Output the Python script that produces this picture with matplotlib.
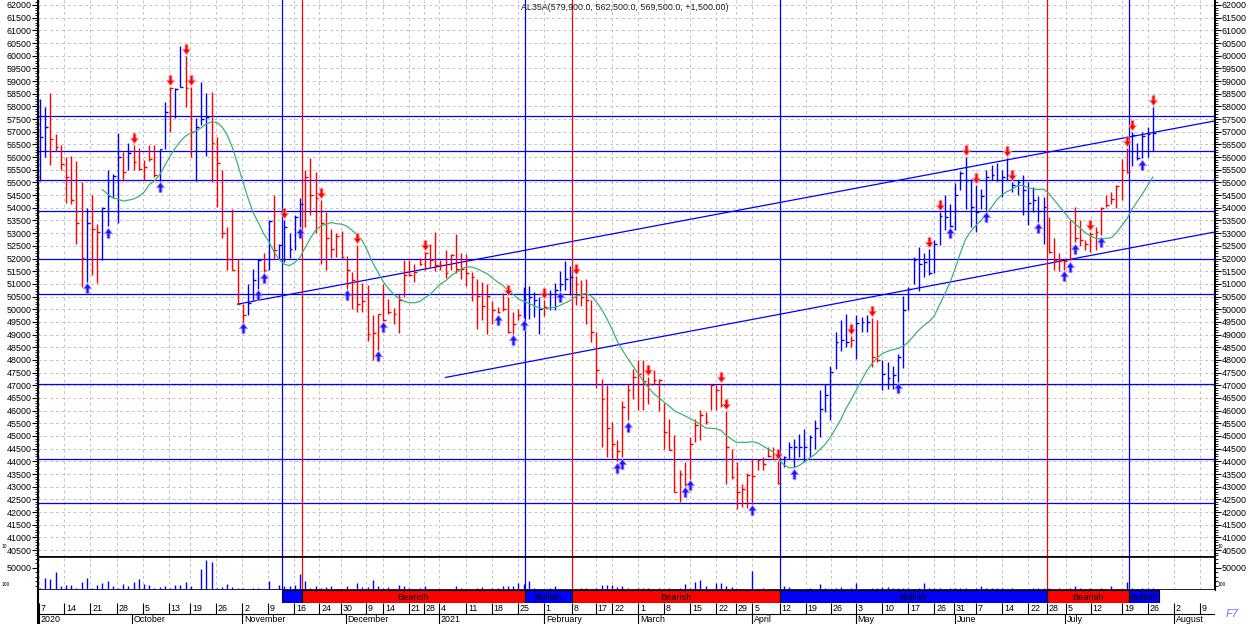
import numpy as np
import pandas as pd
import matplotlib
matplotlib.use("Agg")
import matplotlib.pyplot as plt
from matplotlib.transforms import ScaledTranslation

plt.rcParams['font.family'] = ['Liberation Sans', 'DejaVu Sans']

# ---------------- data ----------------
title = "AL35A(579,900.0, 562,500.0, 569,500.0, +1,500.00)"

bar_dir = ("bbrrrrrrrb" "rrbbbbrbrr" "rrrbbrbbrr" "bbbrrrrrrr" "bbbrbrbbbb"
           "brrrrrrrrr" "rrrrrrrrrr" "rrrrrrrrrr" "rrrrrrrrrr" "rrrbbbbrbb"
           "bbbrrrrrrr" "rrrrrrrrrr" "rrrrrrrrrr" "rrrrrrrrrr" "rrrbbbbbbb"
           "bbbbbbrbbb" "rrbbbbbbbb" "bbbbbbbbbb" "bbbbbbbbbb" "bbbbrrrrrr"
           "rrrrrrrrrr" "bbbbb")

highs = [58310, 57990, 58510, 56930, 56460, 56010, 56040, 55840, 55010, 53990,
         54510, 53380, 54040, 55490, 55350, 56970, 56210, 56540, 56470, 56340,
         55880, 56470, 56470, 56320, 58180, 58780, 58710, 60380, 59990, 58780,
         57530, 58970, 58510, 58580, 56800, 55490, 53250, 53970, 52000, 50220,
         51010, 51580, 51990, 52200, 53510, 54500, 52590, 53510, 52990, 53710,
         54370, 55490, 55950, 55420, 54300, 53840, 53160, 52990, 53090, 52090,
         51450, 52520, 51040, 50950, 49760, 49830, 51010, 50420, 50050, 50620,
         51960, 51960, 51770, 52040, 52240, 52590, 53050, 51930, 52350, 52170,
         52960, 52200, 52170, 51470, 51210, 51080, 51010, 50330, 50090, 50640,
         50490, 49890, 50020, 50880, 50910, 50680, 50490, 50350, 50770, 51040,
         51510, 51890, 51700, 51300, 51140, 51210, 50350, 49100, 47260, 47000,
         45550, 44830, 46400, 47060, 47660, 47980, 47980, 47320, 47590, 47260,
         46300, 45680, 45020, 43640, 43970, 44960, 45680, 46010, 45950, 47060,
         47000, 47060, 45980, 44500, 43970, 43120, 43540, 44100, 44100, 44190,
         44560, 44560, 44000, 44230, 44760, 44890, 45090, 45290, 45020, 45620,
         46800, 47060, 47750, 49100, 49560, 49830, 48950, 49790, 49700, 49760,
         49650, 49560, 48010, 47920, 47750, 48220, 50510, 50880, 52060, 52460,
         52200, 52390, 52720, 53840, 54500, 54170, 54960, 55460, 56010, 55120,
         54890, 54760, 55490, 55680, 55750, 55510, 55950, 55000, 55090, 55290,
         55030, 54830, 54460, 54430, 53640, 52790, 52200, 51960, 53510, 54040,
         53510, 52720, 53050, 53250, 54040, 54500, 54630, 54890, 55910, 56340,
         57000, 56540, 57000, 57170, 57990]

lows = [55070, 56010, 55700, 56250, 55510, 54200, 54170, 52590, 50880, 51080,
        51340, 51050, 51960, 53280, 54370, 53410, 55050, 55490, 55490, 55490,
        55090, 55850, 55220, 55070, 56320, 57000, 57530, 58780, 57990, 56010,
        55070, 57260, 56040, 55030, 54040, 52790, 51540, 51540, 50200, 49500,
        49760, 50350, 50800, 51470, 51540, 52000, 52000, 51870, 52040, 52330,
        53250, 53250, 53710, 53010, 51800, 51560, 52040, 52060, 52040, 50810,
        50020, 49890, 49890, 48750, 48010, 48400, 49540, 49800, 49430, 49060,
        50490, 51300, 51080, 51740, 51540, 51670, 51510, 51540, 51250, 51540,
        51410, 51210, 50910, 50330, 49230, 49560, 49010, 49410, 49850, 49930,
        49060, 49040, 49560, 49650, 49630, 49700, 49010, 49720, 49960, 49960,
        50720, 50770, 50550, 50160, 50120, 49430, 48710, 46900, 44560, 44170,
        44100, 44000, 44170, 45620, 46450, 46010, 46010, 46250, 47060, 45980,
        44500, 44430, 42790, 42390, 43040, 43310, 44760, 44830, 45480, 46010,
        46010, 46140, 43090, 43310, 42130, 42190, 42170, 42330, 43640, 43670,
        44170, 44100, 43120, 43770, 44100, 43770, 44170, 43970, 44170, 44500,
        44960, 45950, 45620, 47660, 48350, 48510, 48510, 48050, 49100, 49100,
        47720, 47920, 46800, 46870, 46870, 47130, 47700, 49960, 51010, 50720,
        51280, 51340, 51410, 52530, 53120, 53250, 53120, 54700, 53970, 53250,
        53050, 53970, 53910, 55090, 55070, 54430, 55090, 54630, 54500, 53710,
        53310, 53840, 53450, 52590, 52200, 51560, 51510, 51560, 51930, 52640,
        52490, 52350, 52260, 52330, 52920, 54040, 54170, 54010, 54300, 55380,
        55640, 55880, 55950, 56010, 56250]

closes = [56780, 57170, 56700, 56380, 55710, 55210, 54300, 53420, 52040, 53420,
          53160, 53030, 54010, 54470, 55260, 56010, 55420, 56180, 55820, 55550,
          55620, 55910, 55300, 56320, 57790, 58710, 58680, 58780, 58710, 57000,
          57200, 57500, 57570, 56540, 55750, 52990, 52000, 51540, 50200, 49760,
          50250, 51170, 51960, 51540, 53470, 52330, 52550, 53250, 52370, 53640,
          54170, 55220, 54500, 54370, 53400, 52800, 52390, 52880, 52060, 51540,
          51140, 50200, 50310, 49040, 49060, 49800, 49560, 49890, 49800, 50350,
          51340, 51340, 51470, 51770, 52200, 51930, 51740, 51740, 51410, 52130,
          51600, 51600, 51430, 51270, 50520, 50130, 50520, 49980, 49900, 50020,
          49100, 49430, 49760, 50420, 50490, 50350, 50020, 50100, 50620, 50750,
          51000, 51210, 51270, 51010, 50490, 50350, 49100, 47600, 46470, 45300,
          44690, 44400, 46140, 46800, 47330, 47460, 47170, 47040, 47200, 47200,
          45160, 44460, 42810, 43510, 43100, 44690, 45420, 45810, 45550, 47000,
          46830, 46210, 44560, 43380, 42790, 42920, 43480, 43440, 44040, 43910,
          44200, 44100, 43140, 44190, 44560, 44560, 44560, 44560, 44960, 45330,
          46080, 46600, 47520, 48710, 48770, 48710, 48800, 49460, 49500, 49500,
          48120, 48000, 47460, 47300, 47400, 48120, 49960, 50780, 51930, 51800,
          51860, 51410, 52590, 53670, 53640, 53280, 54500, 55390, 55090, 54040,
          53840, 54470, 55220, 55290, 55090, 55220, 55290, 54900, 55030, 54700,
          54200, 54300, 53870, 54040, 52260, 51930, 51960, 51890, 52000, 52800,
          52720, 52590, 52980, 53050, 54010, 54110, 54330, 54850, 55490, 55420,
          56870, 55950, 56830, 56930, 56950]

volumes = [4000, 26900, 23900, 40300, 9000, 11200, 11200, 5200, 17900, 26900,
           5200, 11200, 16400, 20200, 9000, 5200, 13400, 9000, 17900, 24700,
           13400, 11200, 5200, 7500, 9000, 5200, 11200, 11200, 17900, 9000,
           3000, 47100, 67200, 62700, 5200, 7500, 13400, 7500, 5200, 5200,
           3000, 5200, 5200, 3000, 20200, 3000, 11200, 9000, 9000, 11200,
           35900, 20200, 5200, 9000, 5200, 7500, 9000, 3000, 3000, 9000,
           3000, 16400, 7500, 7500, 22400, 9000, 5200, 7500, 3000, 11200,
           9000, 5200, 3000, 5000, 9000, 3000, 3000, 3000, 3000, 3000,
           9000, 5200, 3000, 3000, 5200, 7500, 3000, 5200, 5200, 9000,
           9700, 9000, 16400, 13400, 20200, 5200, 3000, 3000, 5200, 9000,
           3000, 3000, 3000, 3000, 5200, 5200, 3000, 5200, 11200, 11200,
           11200, 7500, 9000, 5200, 3000, 5200, 5200, 5200, 3000, 5200,
           3000, 5200, 3000, 5200, 12700, 5200, 17200, 22400, 9000, 3000,
           14900, 16400, 9000, 7500, 3000, 3000, 3000, 42600, 3000, 5200,
           3000, 3000, 3000, 9000, 7500, 3000, 3000, 3000, 5200, 3000,
           13400, 5200, 3000, 5200, 7500, 3000, 5200, 16400, 3000, 3000,
           5200, 5200, 7500, 7500, 5200, 5200, 5200, 5200, 3000, 5200,
           16400, 5200, 5200, 5200, 3000, 5200, 5200, 5200, 5200, 3000,
           5200, 9000, 5200, 5200, 5200, 5200, 3000, 5200, 3000, 3000,
           3000, 5200, 5200, 5200, 5200, 3000, 5200, 3000, 5200, 9000,
           5200, 3000, 5200, 3000, 5200, 3000, 9000, 3000, 3000, 17900,
           5200, 3000, 5200, 5200, 5200]

down_arrows = [18, 25, 28, 29, 47, 54, 61, 74, 90, 97, 103, 117, 131, 132, 142,
               156, 160, 171, 173, 178, 180, 186, 187, 202, 209, 210, 214]
up_arrows = [9, 13, 23, 39, 42, 43, 50, 59, 65, 66, 88, 91, 93, 100, 111, 112,
             113, 124, 125, 137, 145, 165, 175, 182, 192, 197, 198, 199, 204, 212]

levels = [57620, 56230, 55090, 53860, 51970, 50620, 47070, 44110, 42340]
upper_channel = [(38, 50200), (226, 57430)]
lower_channel = [(78, 47310), (226, 53050)]

signal_pos = [46.5, 50.3, 93.3, 102.25, 142.3, 193.6, 209.4]
signal_state = ['Bullish', 'Bearish', 'Bullish', 'Bearish', 'Bullish', 'Bearish', 'Bullish']
signal_label = ['', 'Bearish', 'Bullish', 'Bearish', 'Bullish', 'Bearish', 'Bullish']
signal_end = 215.1

day_pos = [-0.2, 4.7, 9.7, 14.75, 19.75, 24.8, 28.85, 33.85, 38.9, 43.85, 48.85,
           53.7, 57.8, 62.6, 66.0, 70.95, 73.85, 76.7, 82.0, 86.85, 91.85, 96.85,
           102.25, 106.9, 110.05, 115.05, 120.05, 125.0, 130.05, 133.85, 137.0,
           142.3, 147.25, 152.1, 156.9, 162.0, 167.0, 172.0, 175.75, 179.95,
           185.05, 190.05, 193.6, 197.25, 202.1, 208.1, 213.1, 218.1, 223.1]
day_lbl = ['7', '14', '21', '28', '5', '13', '19', '26', '2', '9', '16', '24', '30',
           '9', '14', '21', '28', '4', '11', '18', '25', '1', '8', '17', '22', '1',
           '8', '15', '22', '29', '5', '12', '19', '26', '3', '10', '17', '26', '31',
           '7', '14', '22', '28', '5', '12', '19', '26', '2', '9']
month_pos = [-0.2, 17.75, 38.9, 58.8, 76.7, 97.0, 115.05, 137.0, 156.9, 176.0, 197.1, 218.1]
month_lbl = ['2020', 'October', 'November', 'December', '2021', 'February', 'March',
             'April', 'May', 'June', 'July', 'August']

# ---------------- styling ----------------
BLUE = '#0000ff'
RED = '#ff0000'
GREEN = '#3cb371'
GRID = '#c4c4c4'
FS = 6.4

W, H = 1250, 624
fig = plt.figure(figsize=(W / 100, H / 100), dpi=100)


def rect(x0, y0, x1, y1):
    return [x0 / W, 1 - y1 / H, (x1 - x0) / W, (y1 - y0) / H]


X0, X1 = 38, 1215
ax = fig.add_axes(rect(X0, 0, X1, 556.5))
axv = fig.add_axes(rect(X0, 556.5, X1, 590))
axb = fig.add_axes(rect(X0, 590, X1, 603))
axd = fig.add_axes(rect(X0, 603, X1, 624))

n = len(closes)
x = np.arange(n)
xlim = (-0.385, 225.96)
for a in (ax, axv, axb, axd):
    a.set_xlim(*xlim)

cols = [BLUE if c == 'b' else RED for c in bar_dir]

# ---- price panel ----
ax.set_ylim(40247, 62197)
maj = np.arange(40500, 62001, 500)
ax.set_yticks(maj)
ax.set_yticklabels([str(v) for v in maj])
ax.set_yticks(np.arange(40300, 62200, 100), minor=True)
ax.set_xticks(day_pos)
ax.tick_params(axis='x', which='both', length=0, labelbottom=False)
ax.tick_params(axis='y', which='major', length=4, width=0.8, direction='out',
               left=True, right=True, labelleft=True, labelright=True,
               labelsize=FS, pad=0.5)
ax.tick_params(axis='y', which='minor', length=2, width=0.6, direction='out',
               left=True, right=True)
ax.grid(True, which='major', color=GRID, linestyle=(0, (3, 3)), lw=0.7)
ax.set_axisbelow(True)
ax.spines['top'].set_visible(False)
ax.spines['left'].set_linewidth(1.5)
ax.spines['right'].set_linewidth(1.5)
ax.spines['bottom'].set_linewidth(1.2)

for lv in levels:
    ax.axhline(lv, color=BLUE, lw=0.9, zorder=2)
for (p0, p1) in (upper_channel, lower_channel):
    ax.plot([p0[0], p1[0]], [p0[1], p1[1]], color=BLUE, lw=0.9, zorder=2)
for pos, st in zip(signal_pos, signal_state):
    c = BLUE if st == 'Bullish' else RED
    ax.axvline(pos, color=c, lw=0.9, zorder=2)
    axv.axvline(pos, color=c, lw=0.9, zorder=2)

ax.vlines(x, lows, highs, colors=cols, lw=1.0, zorder=3)
ax.hlines(closes, x, x + 0.55, colors=cols, lw=1.0, zorder=3)

ma = pd.Series(closes, dtype=float).rolling(13).mean()
ax.plot(x, ma, color=GREEN, lw=0.9, zorder=4)

down_verts = [(-0.28, 1.0), (0.28, 1.0), (0.28, 0.05), (0.78, 0.05), (0.0, -1.0),
              (-0.78, 0.05), (-0.28, 0.05), (-0.28, 1.0)]
up_verts = [(vx, -vy) for vx, vy in down_verts]
hi = np.array(highs)
lo = np.array(lows)
ax.plot(down_arrows, hi[down_arrows], linestyle='none', marker=down_verts,
        markersize=7.5, mfc=RED, mec='#ff9a9a', mew=0.6, zorder=5,
        transform=ax.transData + ScaledTranslation(0, 0.07, fig.dpi_scale_trans))
ax.plot(up_arrows, lo[up_arrows], linestyle='none', marker=up_verts,
        markersize=7.5, mfc='#1515ff', mec='#b090ff', mew=0.6, zorder=5,
        transform=ax.transData + ScaledTranslation(0, -0.065, fig.dpi_scale_trans))

# ---- volume panel ----
axv.set_ylim(0, 75100)
axv.vlines(x, 0, volumes, colors=BLUE, lw=1.0, zorder=3)
axv.set_yticks([50000])
axv.set_yticklabels(['50000'])
axv.set_yticks(np.arange(10000, 75001, 10000), minor=True)
axv.set_xticks(day_pos)
axv.tick_params(axis='x', which='both', length=0, labelbottom=False)
axv.tick_params(axis='y', which='major', length=4, width=0.8, left=True, right=True,
                labelleft=True, labelright=True, labelsize=FS, pad=0.5)
axv.tick_params(axis='y', which='minor', length=2, width=0.6, left=True, right=True)
axv.grid(True, axis='x', color=GRID, linestyle=(0, (3, 3)), lw=0.7)
axv.set_axisbelow(True)
for s in axv.spines.values():
    s.set_linewidth(1.2)
axv.spines['left'].set_linewidth(1.5)
axv.spines['right'].set_linewidth(1.5)

# ---- signal band ----
axb.set_ylim(0, 1)
axb.set_xticks([])
axb.set_yticks([])
for k in ('top', 'right', 'bottom'):
    axb.spines[k].set_visible(False)
axb.spines['left'].set_linewidth(1.5)
bounds = signal_pos + [signal_end]
for i, st in enumerate(signal_state):
    c = BLUE if st == 'Bullish' else RED
    axb.axvspan(bounds[i], bounds[i + 1], 0, 1, facecolor=c, edgecolor='black', lw=0.8)
    if signal_label[i]:
        axb.text((bounds[i] + bounds[i + 1]) / 2, 0.45, signal_label[i], ha='center',
                 va='center', fontsize=FS + 0.2, color='black')

# ---- date rows ----
axd.set_ylim(0, 1)
axd.set_xticks([])
axd.set_yticks([])
for k in ('top', 'right', 'bottom'):
    axd.spines[k].set_visible(False)
axd.spines['left'].set_linewidth(1.5)
ROW = 10 / 21
axd.axhline(ROW, color='black', lw=0.8)
axd.vlines(day_pos, ROW, 1.0, colors='black', lw=0.8)
axd.vlines(month_pos, 0, ROW, colors='black', lw=0.8)
for p, t in zip(day_pos, day_lbl):
    axd.text(p + 0.35, 0.74, t, ha='left', va='center', fontsize=FS)
for p, t in zip(month_pos, month_lbl):
    axd.text(p + 0.35, 0.22, t, ha='left', va='center', fontsize=FS)

# ---- extra text ----
fig.text(625 / W, 1 - 7 / H, title, ha='center', va='center', fontsize=FS, color='#202020')
fig.text(2 / W, 1 - 547 / H, '10', fontsize=3.5, va='center')
fig.text(2 / W, 1 - 585 / H, '100', fontsize=3.5, va='center')
fig.text(1218 / W, 1 - 547 / H, '10', fontsize=3.5, va='center')
fig.text(1218 / W, 1 - 585 / H, '100', fontsize=3.5, va='center')
fig.text(1226 / W, 1 - 614 / H, 'F7', fontsize=8, style='italic', color='#7b68ee',
         va='center')

fig.savefig('out.png', dpi=100)
